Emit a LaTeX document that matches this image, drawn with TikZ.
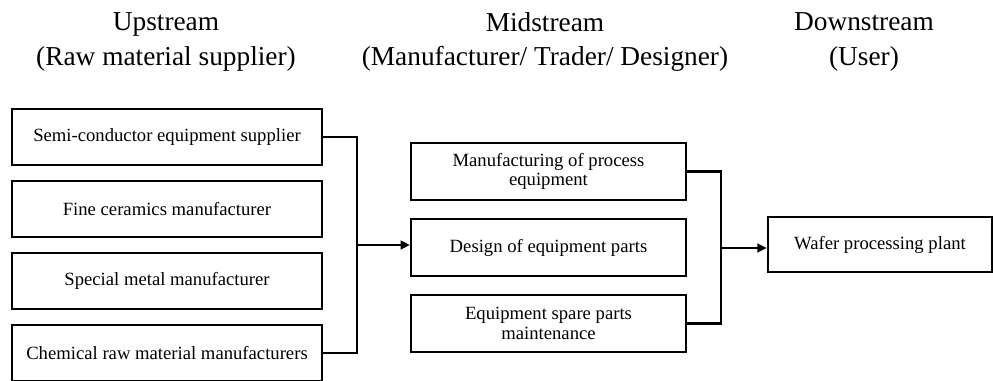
\documentclass[tikz,border=0pt]{standalone}
\usepackage{fontspec}
\setmainfont{Liberation Serif}
\usetikzlibrary{arrows.meta}
\tikzset{
    stagebox/.style={draw, line width=1.9pt, align=center, inner sep=2pt,
        font=\fontsize{14}{14.5}\selectfont},
    stagehead/.style={align=center, font=\fontsize{20.5}{26}\selectfont},
    flow/.style={line width=1.7pt},
    flowarrow/.style={line width=1.7pt, -{Triangle[length=7pt,width=6.5pt]}}
}

\begin{document}
\begin{tikzpicture}[x=0.75pt, y=-0.75pt]
                \useasboundingbox (0, 0) rectangle (993, 381);
                % headers
                \node[stagehead] (uphead) at (166, 42) {Upstream\\(Raw material supplier)};
                \node[stagehead] (midhead) at (545, 42) {Midstream\\(Manufacturer/ Trader/ Designer)};
                \node[stagehead] (downhead) at (864, 42) {Downstream\\(User)};
                % upstream boxes
                \node[stagebox, minimum width=232.5pt, minimum height=42pt] (up1) at (167, 137) {Semi-conductor equipment supplier};
                \node[stagebox, minimum width=232.5pt, minimum height=42pt] (up2) at (167, 209) {Fine ceramics manufacturer};
                \node[stagebox, minimum width=232.5pt, minimum height=42pt] (up3) at (167, 281) {Special metal manufacturer};
                \node[stagebox, minimum width=232.5pt, minimum height=42pt] (up4) at (167, 353) {Chemical raw material manufacturers};
                % midstream boxes
                \node[stagebox, minimum width=206pt, minimum height=42.5pt] (mid1) at (548.5, 171.5) {Manufacturing of process\\equipment};
                \node[stagebox, minimum width=206pt, minimum height=42.5pt] (mid2) at (548.5, 247.5) {Design of equipment parts};
                \node[stagebox, minimum width=206pt, minimum height=42.5pt] (mid3) at (548.5, 323.5) {Equipment spare parts\\maintenance};
                % downstream box
                \node[stagebox, minimum width=168pt, minimum height=41pt] (wafer) at (880, 244.5) {Wafer processing plant};
                % connectors
                \coordinate (upbus) at (357, 245);
                \coordinate (midbus) at (721, 248);
                \draw[flow] (up1.east) -| (upbus) |- (up4.east);
                \draw[flowarrow] (upbus) -- (mid2.west |- upbus);
                \draw[flow] (mid1.east) -| (midbus) |- (mid3.east);
                \draw[flowarrow] (midbus) -- (wafer.west |- midbus);
            \end{tikzpicture}
\end{document}
